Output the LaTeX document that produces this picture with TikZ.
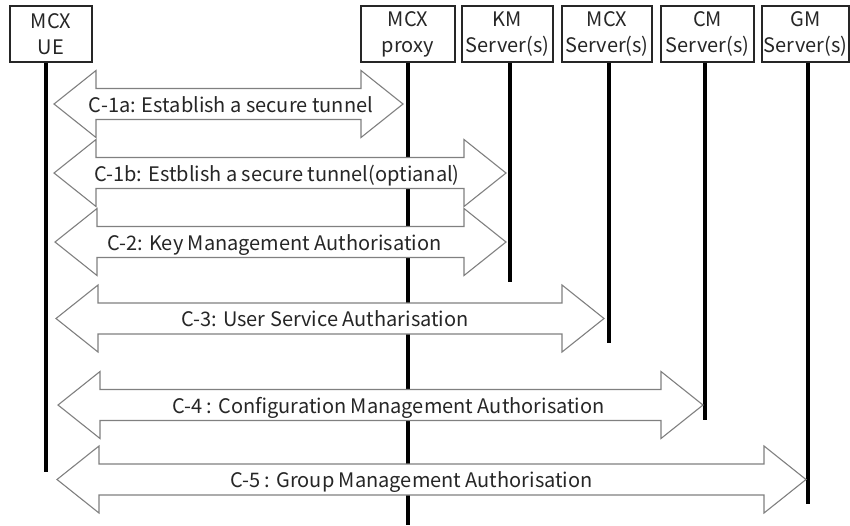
\documentclass[tikz,border=0pt]{standalone}
\usepackage{fontspec}
\setmainfont{Noto Sans CJK SC}
\begin{document}
\begin{tikzpicture}[x=1pt,y=-1pt,
  box/.style={draw=black!85,line width=1.3pt,minimum height=56pt,inner sep=0pt,align=center,
    font=\fontsize{20}{26}\selectfont,text=black!85},
  life/.style={line width=3.6pt,black},
  arr/.style={draw=black!50,line width=1.1pt,fill=white,line join=miter},
  lbl/.style={font=\fontsize{20}{22}\selectfont,text=black!85,inner sep=0pt}]
\useasboundingbox (0,0) rectangle (850,525);
% entity boxes
\node[box,minimum width=82pt] (ue) at (51,34) {MCX\\UE};
\node[box,minimum width=94pt] (px) at (408,34) {MCX\\proxy};
\node[box,minimum width=91pt] (km) at (507.5,34) {KM\\Server(s)};
\node[box,minimum width=90pt] (ms) at (607,34) {MCX\\Server(s)};
\node[box,minimum width=93pt] (cm) at (707.5,34) {CM\\Server(s)};
\node[box,minimum width=87pt] (gm) at (805.5,34) {GM\\Server(s)};
% lifeline ends
\coordinate (ueE) at (46,472);
\coordinate (pxE) at (408,525);
\coordinate (kmE) at (510,282);
\coordinate (msE) at (609,343);
\coordinate (cmE) at (705,420);
\coordinate (gmE) at (808,504);
\draw[life] (ueE |- ue.south) -- (ueE);
\draw[life] (pxE |- px.south) -- (pxE);
\draw[life] (kmE |- km.south) -- (kmE);
\draw[life] (msE |- ms.south) -- (msE);
\draw[life] (cmE |- cm.south) -- (cmE);
\draw[life] (gmE |- gm.south) -- (gmE);
% block arrows
\newcommand\blk[6]{%
  \draw[arr] (#2,#4) -- (#2+42,#4-33.5) -- (#2+42,#4-15.5) -- (#3-42,#4-15.5)
    -- (#3-42,#4-33.5) -- (#3,#4) -- (#3-42,#4+33.5) -- (#3-42,#4+15.5)
    -- (#2+42,#4+15.5) -- (#2+42,#4+33.5) -- cycle;
  \node[lbl,anchor=base] (#1) at (#5,#4+8) {#6};}
\blk{c1a}{54}{403}{104}{231}{C-1a: Establish a secure tunnel}
\blk{c1b}{54}{506}{173}{277}{C-1b: Estblish a secure tunnel(optianal)}
\blk{c2}{55}{506}{242}{274.5}{C-2: Key Management Authorisation}
\blk{c3}{56}{604}{318.5}{325}{C-3: User Service Autharisation}
\blk{c4}{58}{703}{405}{388.5}{C-4 : Configuration Management Authorisation}
\blk{c5}{57}{806}{479.5}{411.5}{C-5 : Group Management Authorisation}
\end{tikzpicture}
\end{document}
